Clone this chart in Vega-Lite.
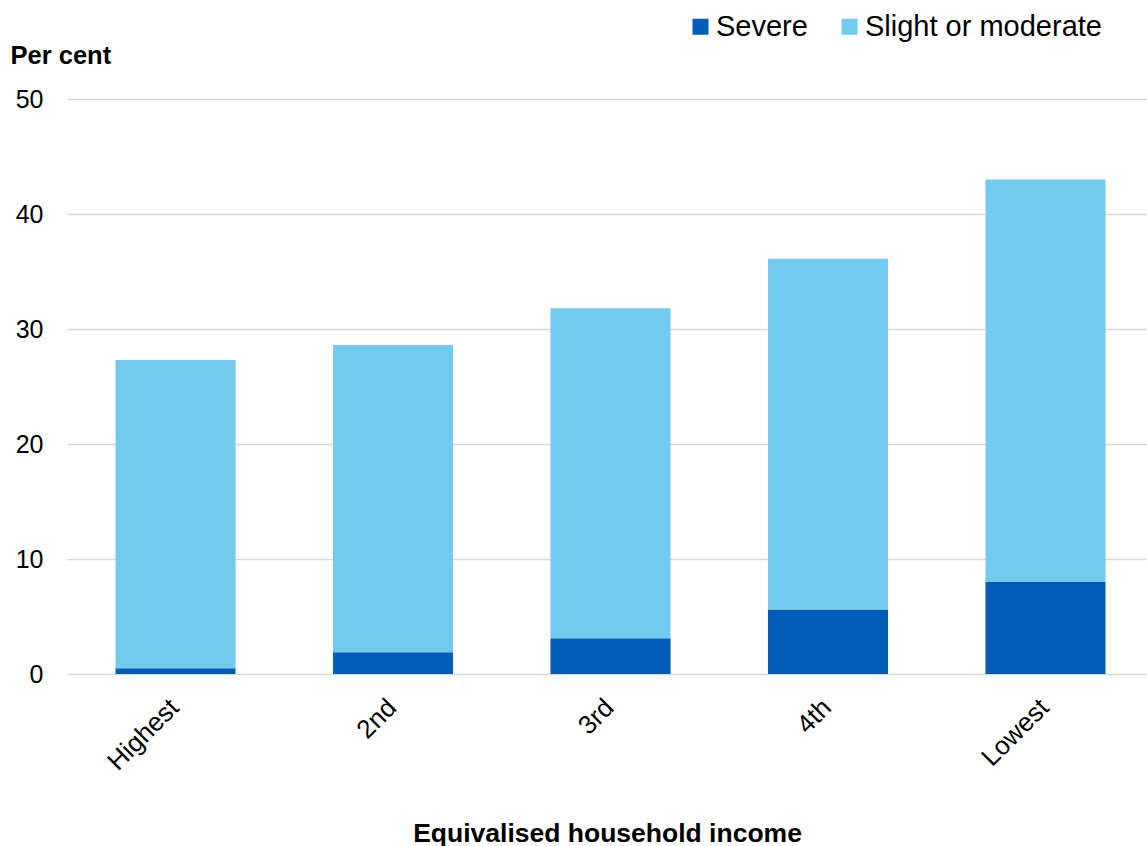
{
  "$schema": "https://vega.github.io/schema/vega-lite/v6.json",
  "autosize": "none",
  "width": 1080,
  "height": 575,
  "padding": {"left": 67, "top": 99, "right": 0, "bottom": 172},
  "background": "#ffffff",
  "config": {
    "font": "Liberation Sans",
    "view": {"stroke": null},
    "axis": {"labelColor": "#000000", "titleColor": "#000000", "labelFont": "Liberation Sans", "titleFont": "Liberation Sans"},
    "legend": {"labelFont": "Liberation Sans"}
  },
  "data": {
    "values": [
      {"income": "Highest", "type": "Severe", "value": 0.5},
      {"income": "Highest", "type": "Slight or moderate", "value": 26.8},
      {"income": "2nd", "type": "Severe", "value": 1.9},
      {"income": "2nd", "type": "Slight or moderate", "value": 26.7},
      {"income": "3rd", "type": "Severe", "value": 3.1},
      {"income": "3rd", "type": "Slight or moderate", "value": 28.7},
      {"income": "4th", "type": "Severe", "value": 5.6},
      {"income": "4th", "type": "Slight or moderate", "value": 30.5},
      {"income": "Lowest", "type": "Severe", "value": 8.0},
      {"income": "Lowest", "type": "Slight or moderate", "value": 35.0}
    ]
  },
  "mark": {"type": "bar"},
  "encoding": {
    "x": {
      "field": "income",
      "type": "nominal",
      "sort": ["Highest", "2nd", "3rd", "4th", "Lowest"],
      "scale": {"range": [0, 1087], "paddingInner": 0.448, "paddingOuter": 0.223},
      "axis": {
        "title": "Equivalised household income",
        "titleFontSize": 26.5,
        "titleFontWeight": "bold",
        "titleX": 540,
        "titleAlign": "center",
        "titleY": 167,
        "titleBaseline": "alphabetic",
        "labelAngle": -45,
        "labelFontSize": 26,
        "labelPadding": 20,
        "labelOffset": -10,
        "ticks": false,
        "domain": false,
        "grid": false
      }
    },
    "y": {
      "field": "value",
      "type": "quantitative",
      "stack": "zero",
      "scale": {"domain": [0, 50], "nice": false},
      "axis": {
        "title": "Per cent",
        "titleFontSize": 25.5,
        "titleFontWeight": "bold",
        "titleAngle": 0,
        "titleAlign": "left",
        "titleBaseline": "alphabetic",
        "titleX": -57,
        "titleY": -36,
        "values": [0, 10, 20, 30, 40, 50],
        "labelFontSize": 25,
        "labelPadding": 24,
        "ticks": false,
        "domain": false,
        "grid": true,
        "gridColor": "#D9D9D9",
        "gridWidth": 1.5
      }
    },
    "color": {
      "field": "type",
      "type": "nominal",
      "scale": {"domain": ["Severe", "Slight or moderate"], "range": ["#005EB8", "#72CBEF"]},
      "legend": {
        "title": null,
        "orient": "none",
        "direction": "horizontal",
        "legendX": 619,
        "legendY": -87,
        "symbolType": "square",
        "symbolSize": 256,
        "symbolStrokeWidth": 0,
        "labelFontSize": 29,
        "labelColor": "#000000",
        "labelLimit": 0,
        "labelOffset": 1,
        "columnPadding": 27
      }
    },
    "order": {"field": "type", "sort": "ascending"}
  }
}
